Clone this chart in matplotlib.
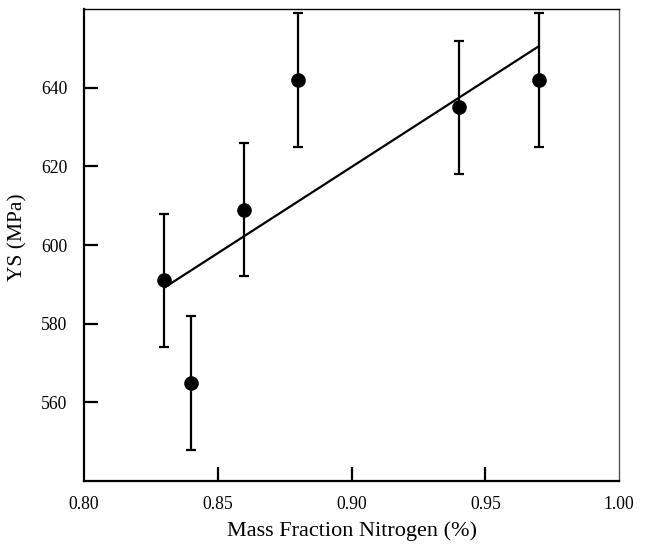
import numpy as np
import matplotlib
matplotlib.use("Agg")
import matplotlib.pyplot as plt

plt.rcParams['font.family'] = ['Liberation Serif', 'DejaVu Serif']

# mass fraction nitrogen (%) and yield strength (MPa)
nitrogen = [0.83, 0.84, 0.86, 0.88, 0.94, 0.97]
ys = [591, 565, 609, 642, 635, 642]
ys_err = [17, 17, 17, 17, 17, 17]

xticks = [0.80, 0.85, 0.90, 0.95, 1.00]
yticks = [560, 580, 600, 620, 640]

fig = plt.figure(figsize=(6.45, 5.45), dpi=100)
ax = fig.add_axes([0.130, 0.1174, 0.830, 0.866])

# least squares line through the points
slope, icpt = np.polyfit(nitrogen, ys, 1)
fit_x = np.array([min(nitrogen), max(nitrogen)])
ax.plot(fit_x, slope * fit_x + icpt, color="black", lw=1.6, zorder=2)

ax.errorbar(nitrogen, ys, yerr=ys_err, fmt="o", color="black", ms=9.5,
            elinewidth=1.6, capsize=3.5, capthick=1.6, zorder=3)

ax.set_xlim(0.80, 1.00)
ax.set_ylim(540, 660)
ax.set_xticks(xticks)
ax.set_xticklabels(["%.2f" % t for t in xticks])
ax.set_yticks(yticks)
ax.tick_params(direction="in", length=10, width=1.6, labelsize=12.7)
ax.tick_params(axis="x", pad=11)
ax.tick_params(axis="y", pad=12)
# no tick marks at the corners
xt = ax.xaxis.get_major_ticks()
xt[0].tick1line.set_visible(False)
xt[-1].tick1line.set_visible(False)

ax.spines["left"].set_linewidth(1.6)
ax.spines["bottom"].set_linewidth(1.6)
ax.spines["top"].set_linewidth(1.0)
ax.spines["right"].set_linewidth(1.0)
ax.spines["right"].set_color("#555555")

ax.set_xlabel("Mass Fraction Nitrogen (%)", fontsize=16, labelpad=6)
ax.set_ylabel("YS (MPa)", fontsize=15.5)
ax.yaxis.set_label_coords(-0.106, 0.516)

plt.savefig("out.png", dpi=100)
